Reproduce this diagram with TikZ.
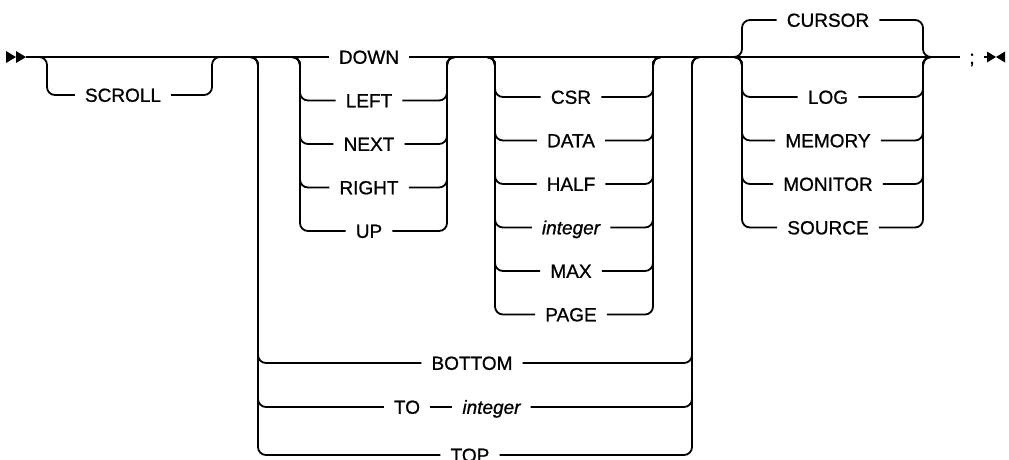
\documentclass[tikz,border=0pt]{standalone}
\usepackage{fontspec}
\setmainfont{Liberation Sans}[FakeBold=0.9]
\usetikzlibrary{positioning}

\begin{document}
\begin{tikzpicture}[x=1pt,y=-1pt,node distance=25.5pt,
 rail/.style={line width=1.8pt,rounded corners=8pt},
 kw/.style={font=\fontsize{19}{22}\selectfont,inner xsep=10pt,inner ysep=2pt,
  text height=13.6pt,text depth=0pt},
 var/.style={kw,font=\fontsize{19}{22}\selectfont\itshape}]
\useasboundingbox (0,0) rectangle (1009,459);
% keywords
\node[kw] (scroll) at (123,95) {SCROLL};
\node[kw] (down) at (369,57) {DOWN};
\node[kw,below=of down] (left) {LEFT};
\node[kw,below=of left] (next) {NEXT};
\node[kw,below=of next] (right) {RIGHT};
\node[kw,below=of right] (up) {UP};
\node[kw] (csr) at (571,97) {CSR};
\node[kw,below=of csr] (data) {DATA};
\node[kw,below=of data] (half) {HALF};
\node[var,below=of half] (int) {integer};
\node[kw,below=of int] (max) {MAX};
\node[kw,below=of max] (page) {PAGE};
\node[kw] (bottom) at (472,363) {BOTTOM};
\node[kw] (to) at (407,407) {TO};
\node[var,right=22pt of to] (toint) {integer};
\node[kw] (top) at (470,455) {TOP};
\node[kw] (cursor) at (828,20) {CURSOR};
\node[kw] (log) at (828,97) {LOG};
\node[kw,below=of log] (memory) {MEMORY};
\node[kw,below=of memory] (monitor) {MONITOR};
\node[kw,below=of monitor] (source) {SOURCE};
\node[kw,inner xsep=9pt] (semi) at (972,57) {;};
% junctions
\coordinate (start) at (26,57);
\coordinate (stop) at (988,57);
\coordinate (sL) at (47,57);  \coordinate (sR) at (212,57);
\coordinate (bL) at (258,57); \coordinate (bR) at (692,57);
\coordinate (dL) at (300,57); \coordinate (dR) at (447,57);
\coordinate (cL) at (495,57); \coordinate (cR) at (653,57);
\coordinate (uL) at (742,57); \coordinate (uR) at (923,57);
% main line
\draw[rail] (start) -- (down.west);
\draw[rail] (down.east) -- (semi.west);
\draw[rail] (semi.east) -- (stop);
\draw[rail] (to) -- (toint);
% branches
\foreach \l/\r/\a/\b in {sL/sR/scroll/scroll,
  dL/dR/left/left,dL/dR/next/next,dL/dR/right/right,dL/dR/up/up,
  cL/cR/csr/csr,cL/cR/data/data,cL/cR/half/half,cL/cR/int/int,cL/cR/max/max,cL/cR/page/page,
  bL/bR/bottom/bottom,bL/bR/to/toint,bL/bR/top/top,
  uL/uR/cursor/cursor,uL/uR/log/log,uL/uR/memory/memory,uL/uR/monitor/monitor,uL/uR/source/source}{
  \draw[rail] ([xshift=-12pt]\l) -- (\l) -- (\l |- \a) -- (\a.west);
  \draw[rail] (\b.east) -- (\r |- \b) -- (\r) -- ([xshift=12pt]\r);
}
% start and end marks
\fill (6,51) -- (16,57) -- (6,63) -- cycle;
\fill (16,51) -- (26,57) -- (16,63) -- cycle;
\fill (987,51.5) -- (996,57) -- (987,62.5) -- cycle;
\fill (1005,51.5) -- (996,57) -- (1005,62.5) -- cycle;
\end{tikzpicture}
\end{document}
